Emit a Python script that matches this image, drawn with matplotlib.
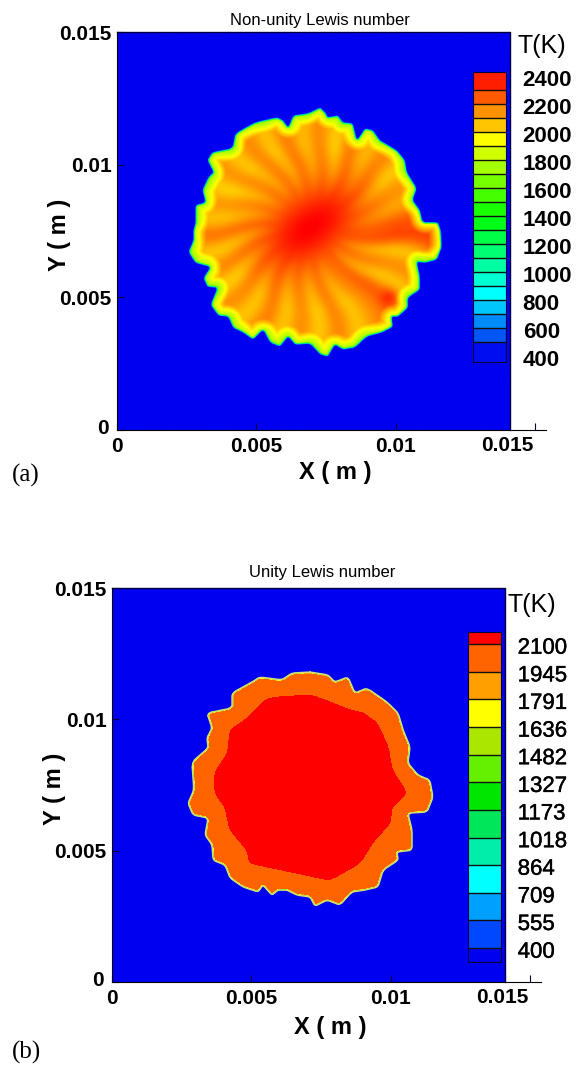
import numpy as np
import matplotlib
matplotlib.use("Agg")
import matplotlib.pyplot as plt
import matplotlib.patheffects as pe
from matplotlib.colors import LinearSegmentedColormap, ListedColormap, BoundaryNorm, Normalize
from matplotlib.path import Path

W, H = 582, 1072

# flame outline of the non-unity case, mm
flame_a_x = [7.29, 7.47, 7.57, 7.93, 8.11, 8.47, 8.61, 8.90, 9.19, 9.44, 9.62, 10.05, 10.34, 10.41, 10.77, 10.62,
             10.88, 10.98, 11.52, 11.63, 11.67, 11.49, 11.06, 10.77, 10.88, 10.88, 10.45, 10.45, 10.09, 9.87, 9.91,
             9.51, 8.97, 8.54, 8.11, 7.82, 7.57, 7.29, 6.93, 6.39, 6.14, 5.85, 5.49, 5.24, 4.88, 4.52, 4.16, 3.98,
             3.63, 3.34, 3.59, 3.23, 3.09, 3.34, 2.80, 2.55, 2.73, 2.73, 2.80, 2.80, 3.16, 3.05, 3.27, 3.45, 3.23,
             3.41, 4.13, 4.24, 4.95, 5.74, 5.96, 6.14, 6.32, 6.86]
flame_a_y = [12.17, 11.99, 11.80, 11.87, 11.61, 11.57, 10.93, 11.38, 11.31, 10.93, 10.82, 10.55, 10.18, 9.72, 9.12, 8.67,
             8.29, 7.84, 7.84, 7.54, 6.90, 6.41, 6.29, 6.33, 5.77, 5.28, 4.98, 4.60, 4.26, 4.26, 3.88, 3.66, 3.51,
             3.09, 3.02, 3.20, 2.75, 2.83, 3.24, 3.20, 3.51, 3.13, 3.28, 3.77, 3.39, 3.66, 3.84, 4.26, 4.30, 4.71,
             5.35, 5.39, 5.73, 6.14, 6.29, 6.71, 7.16, 7.54, 7.80, 8.48, 8.59, 9.05, 9.54, 9.72, 10.18, 10.48, 10.63,
             11.19, 11.61, 11.80, 11.68, 11.42, 11.87, 11.95]

# streak temperature every 10 degrees round the flame, K
streak_angle = list(range(0, 360, 10))
streak_temp = [2260, 2100, 2150, 2020, 2180, 2060, 2200, 2020, 2180, 2060, 2200, 2040, 2180, 2040, 2160, 2020, 2150, 2050,
               2220, 2030, 2180, 2010, 2170, 2030, 2200, 2040, 2170, 2030, 2190, 2040, 2160, 2260, 2040, 2170, 2040, 2300]
hot_spot_x, hot_spot_y, hot_spot_t = 9.73, 4.98, 2330

# outer and inner (2100 K) outlines of the unity case, mm
flame_b_x = [7.11, 7.75, 8.00, 8.47, 8.72, 9.15, 9.87, 10.27, 10.45, 10.70, 10.62, 10.98, 11.41, 11.52, 11.31, 10.62,
             10.77, 10.77, 10.23, 10.27, 9.73, 9.55, 9.08, 8.61, 8.18, 7.72, 7.29, 7.11, 6.64, 6.28, 5.96, 5.74, 5.42,
             5.24, 4.70, 4.24, 4.06, 3.63, 3.59, 3.34, 3.45, 2.91, 2.73, 2.94, 2.87, 3.45, 3.41, 3.59, 3.41, 4.31,
             4.31, 5.03, 5.31, 6.10, 6.46]
flame_b_y = [11.80, 11.69, 11.42, 11.61, 11.00, 11.19, 10.66, 10.24, 9.59, 8.95, 8.34, 7.88, 7.69, 7.04, 6.47, 6.43,
             5.79, 5.02, 4.95, 4.64, 4.26, 3.62, 3.50, 3.43, 2.93, 3.12, 2.89, 3.24, 3.31, 3.50, 3.50, 3.31, 3.69,
             3.43, 3.62, 3.96, 4.45, 4.64, 5.22, 5.60, 6.24, 6.36, 6.81, 7.31, 8.37, 8.91, 9.29, 9.67, 10.24, 10.43,
             11.00, 11.42, 11.61, 11.50, 11.76]
core_b_x = [7.11, 7.82, 8.54, 9.01, 9.51, 9.91, 10.05, 10.59, 10.05, 9.98, 9.37, 8.90, 7.82, 7.11, 5.78, 4.95, 4.85,
            4.24, 4.06, 3.70, 3.70, 4.16, 4.24, 4.88, 5.56]
core_b_y = [10.93, 10.66, 10.35, 10.24, 9.86, 8.95, 8.07, 7.19, 6.66, 6.05, 5.33, 4.53, 3.88, 4.04, 4.34, 4.53, 5.02,
            5.79, 6.66, 7.19, 7.99, 8.72, 9.59, 10.05, 10.81]

# colour bars
bar_a_labels = [2400, 2200, 2000, 1800, 1600, 1400, 1200, 1000, 800, 600, 400]
bar_a_lines = list(range(500, 2400, 100))
bar_b_levels = [400, 555, 709, 864, 1018, 1173, 1327, 1482, 1636, 1791, 1945, 2100]
bar_b_colors = ['#0000f0', '#0048ff', '#00a0ff', '#00ffff', '#00eeaa', '#00e65a', '#00e600', '#64f000', '#aae600',
                '#ffff00', '#ffa000', '#ff6400', '#ff0000']

x_ticks = [0, 0.005, 0.01, 0.015]
x_tick_labels = ['0', '0.005', '0.01', '']
y_ticks = [0, 0.005, 0.01, 0.015]
y_tick_labels = ['', '0.005', '0.01', '0.015']

plt.rcParams['font.family'] = ['Liberation Sans', 'DejaVu Sans']


def add_axes_px(fig, left, top, right, bottom):
    return fig.add_axes([left / W, 1 - bottom / H, (right - left) / W, (bottom - top) / H])


def smooth_closed(xs, ys, n=6, win=3):
    xs, ys = np.append(xs, xs[0]), np.append(ys, ys[0])
    t = np.arange(len(xs))
    tt = np.linspace(0, len(xs) - 1, (len(xs) - 1) * n, endpoint=False)
    x, y = np.interp(tt, t, xs), np.interp(tt, t, ys)
    kernel = np.ones(win) / win
    x = np.convolve(np.r_[x[-win:], x, x[:win]], kernel, mode='same')[win:-win]
    y = np.convolve(np.r_[y[-win:], y, y[:win]], kernel, mode='same')[win:-win]
    return x, y


def inside_distance(gx, gy, xs, ys):
    # distance to the outline, negative outside
    px, py = smooth_closed(xs, ys)
    inside = Path(np.c_[px, py]).contains_points(np.c_[gx.ravel(), gy.ravel()]).reshape(gx.shape)
    best = np.full(gx.shape, 1e9)
    qx, qy = np.roll(px, -1), np.roll(py, -1)
    for a, b, c, d in zip(px, py, qx, qy):
        dx, dy = c - a, d - b
        t = np.clip(((gx - a) * dx + (gy - b) * dy) / max(dx * dx + dy * dy, 1e-9), 0, 1)
        best = np.minimum(best, (gx - a - t * dx) ** 2 + (gy - b - t * dy) ** 2)
    dist = np.sqrt(best)
    return np.where(inside, dist, -dist)


def panel_frame(ax, xmax, xlabel_drop):
    ax.set_xlim(0, xmax)
    ax.set_ylim(0, 0.015)
    ax.spines['top'].set_visible(False)
    ax.spines['right'].set_visible(False)
    ax.patch.set_alpha(0)
    ax.plot([0, 0.0141, 0.0141], [0.015, 0.015, 0], color='#00003c', lw=1, clip_on=False)
    ax.set_xticks(x_ticks)
    ax.set_xticklabels(x_tick_labels)
    ax.set_yticks(y_ticks)
    ax.set_yticklabels(y_tick_labels)
    ax.tick_params(direction='in', length=5, width=0.8, labelsize=15, color='#00003c')
    ax.tick_params(axis='x', pad=5)
    ax.tick_params(axis='y', pad=4)
    for lab in ax.get_xticklabels() + ax.get_yticklabels():
        lab.set_fontweight('bold')
    ax.annotate('0.015', (0.015, 0), xytext=(-20, -4), textcoords='offset points', ha='center', va='top',
                fontsize=15, fontweight='bold')
    ax.annotate('0', (0, 0), xytext=(-6, 1), textcoords='offset points', ha='right', va='center',
                fontsize=15, fontweight='bold')
    ax.set_xlabel('X ( m )', fontsize=17, fontweight='bold')
    ax.set_ylabel('Y ( m )', fontsize=17, fontweight='bold')
    ax.xaxis.set_label_coords((335 - 117) / 429, -xlabel_drop / 398)
    ax.yaxis.set_label_coords(-46 / 429, 0.49)


fig = plt.figure(figsize=(W / 100, H / 100), dpi=100, facecolor='white')

gx_mm, gy_mm = np.meshgrid(np.linspace(0, 14.1, 560), np.linspace(0, 15, 600))

# panel (a): smooth field
nodes = [(400, '#0000f0'), (850, '#00ffff'), (1400, '#00ff00'), (1950, '#ffff00'), (2420, '#ff0000')]
cmap_a = LinearSegmentedColormap.from_list('rainbow_a', [((v - 400) / 2020, c) for v, c in nodes])
norm_a = Normalize(400, 2420)

d_a = inside_distance(gx_mm, gy_mm, flame_a_x, flame_a_y)
cx, cy = 6.95, 7.65
rad = np.hypot(gx_mm - cx, gy_mm - cy)
# streaks bend a little on their way out so they do not look like spokes
theta = (np.degrees(np.arctan2(gy_mm - cy, gx_mm - cx)) + 5 * np.sin(rad * 1.3)) % 360
fine_angle = np.arange(360)
fine_streak = np.interp(fine_angle, streak_angle, streak_temp, period=360)
fine_streak = np.convolve(np.r_[fine_streak[-6:], fine_streak, fine_streak[:6]], np.ones(7) / 7, mode='same')[6:-6]
streak = np.interp(theta, fine_angle, fine_streak, period=360)
contrast = np.clip((rad - 0.9) / 2.2, 0, 1)
T_a = 2195 + (streak - 2195) * contrast
c40, s40 = np.cos(np.radians(40)), np.sin(np.radians(40))
u = (gx_mm - cx) * c40 + (gy_mm - cy) * s40
v = -(gx_mm - cx) * s40 + (gy_mm - cy) * c40
core = np.exp(-(u / 1.9) ** 2 - (v / 1.05) ** 2)
T_a = T_a + (2420 - T_a) * core
spot = np.exp(-((gx_mm - hot_spot_x) ** 2 + (gy_mm - hot_spot_y) ** 2) / 0.09)
T_a = T_a + (hot_spot_t - T_a) * spot
edge = np.clip(d_a / 0.07, 0, 1) * 0.8 + np.clip((d_a - 0.07) / 0.4, 0, 1) * 0.2
T_a = 400 + (T_a - 400) * edge

ax_a = add_axes_px(fig, 117, 32, 546, 430)
ax_a.imshow(T_a, origin='lower', extent=[0, 0.0141, 0, 0.015], aspect='auto', cmap=cmap_a, norm=norm_a,
            interpolation='bilinear')
panel_frame(ax_a, 0.0154, 31)
fig.text(320 / W, 1 - 20 / H, 'Non-unity Lewis number', ha='center', va='center', fontsize=12)
fig.text(517 / W, 1 - 46 / H, 'T(K)', ha='left', va='center', fontsize=18)

bar_a = add_axes_px(fig, 473, 72, 506, 362)
edges_a = np.array([357] + bar_a_lines + [2429])
mids_a = (edges_a[:-1] + edges_a[1:]) / 2
bar_a.pcolormesh([0, 1], edges_a, mids_a[:, None], cmap=cmap_a, norm=norm_a, edgecolors='none')
bar_a.hlines(bar_a_lines, 0, 1, color='#101010', lw=1)
bar_a.set_ylim(357, 2429)
bar_a.set_xticks([])
bar_a.set_yticks([])
for s in bar_a.spines.values():
    s.set_color('#00003c')
for val in bar_a_labels:
    bar_a.annotate(str(val), (1, val), xycoords=('axes fraction', 'data'), xytext=(12, -3), textcoords='offset points',
                   va='center', ha='left', fontsize=16, fontweight='bold')

# panel (b): banded field
d_b = inside_distance(gx_mm, gy_mm, flame_b_x, flame_b_y)
d_core = inside_distance(gx_mm, gy_mm, core_b_x, core_b_y)
T_b = 300 + (2020 - 300) * np.clip(d_b / 0.07, 0, 1)
T_b = T_b + 200 * np.clip(d_core / 0.03 + 0.5, 0, 1)
cmap_b = ListedColormap(bar_b_colors[1:-1])
cmap_b.set_under(bar_b_colors[0])
cmap_b.set_over(bar_b_colors[-1])
norm_b = BoundaryNorm(bar_b_levels, cmap_b.N)

ax_b = add_axes_px(fig, 112, 588, 541, 982)
ax_b.contourf(gx_mm * 1e-3, gy_mm * 1e-3, T_b, levels=bar_b_levels, cmap=cmap_b, norm=norm_b, extend='both')
rim_x, rim_y = smooth_closed(flame_b_x, flame_b_y)
ax_b.plot(np.append(rim_x, rim_x[0]) * 1e-3, np.append(rim_y, rim_y[0]) * 1e-3, color='#d6dc78', lw=1.1)
panel_frame(ax_b, 0.0154, 34)
fig.text(322 / W, 1 - 573 / H, 'Unity Lewis number', ha='center', va='center', fontsize=12)
fig.text(507 / W, 1 - 605 / H, 'T(K)', ha='left', va='center', fontsize=18)

bar_b = add_axes_px(fig, 468, 632, 501, 962)
edges_b = np.array([322] + bar_b_levels + [2167])
mids_b = (edges_b[:-1] + edges_b[1:]) / 2
bar_b.pcolormesh([0, 1], edges_b, mids_b[:, None], cmap=cmap_b, norm=norm_b, edgecolors='none')
bar_b.hlines(bar_b_levels, 0, 1, color='#101010', lw=1)
bar_b.set_ylim(322, 2167)
bar_b.set_xticks([])
bar_b.set_yticks([])
for s in bar_b.spines.values():
    s.set_color('#00003c')
for val in bar_b_levels:
    bar_b.annotate(str(val), (1, val), xycoords=('axes fraction', 'data'), xytext=(12, -3), textcoords='offset points',
                   va='center', ha='left', fontsize=16,
                   path_effects=[pe.withStroke(linewidth=0.3, foreground='black')])

fig.text(12 / W, 1 - 475 / H, '(a)', family='Liberation Serif', fontsize=18, ha='left', va='center')
fig.text(12 / W, 1 - 1052 / H, '(b)', family='Liberation Serif', fontsize=18, ha='left', va='center')

fig.savefig('out.png', dpi=100)
